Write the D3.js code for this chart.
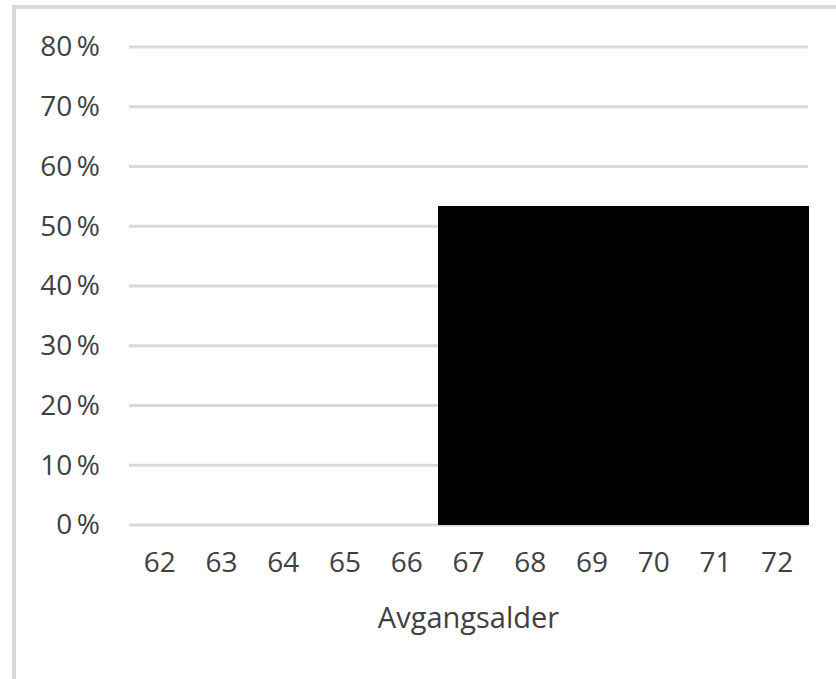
<!DOCTYPE html>
<html>
<head>
<meta charset="utf-8">
<script src="https://cdn.jsdelivr.net/npm/d3@7"></script>
<style>
  body { margin: 0; background: #ffffff; }
  text { font-family: "Open Sans", sans-serif; fill: #404040; }
</style>
</head>
<body>
<div id="chart"></div>
<script>
// categories (avgangsalder) and share per age
var ages = ["62","63","64","65","66","67","68","69","70","71","72"];
var shares = [0, 0, 0, 0, 0, 53.4, 53.4, 53.4, 53.4, 53.4, 53.4];
var yTicks = [0, 10, 20, 30, 40, 50, 60, 70, 80];
var xTitle = "Avgangsalder";

var svgWidth = 836;
var svgHeight = 679;

var margin = { top: 47, right: 28, bottom: 154, left: 129 };
var chartWidth = svgWidth - margin.left - margin.right;
var chartHeight = svgHeight - margin.top - margin.bottom;

var svg = d3.select("#chart")
    .append("svg")
    .attr("width", svgWidth)
    .attr("height", svgHeight);

// frame (only top and left edge visible)
svg.append("path")
    .attr("d", "M14,679 L14,7 L836,7")
    .attr("fill", "none")
    .attr("stroke", "#d9d9d9")
    .attr("stroke-width", 4);

var chartGroup = svg.append("g")
    .attr("transform", `translate(${margin.left}, ${margin.top})`);

//scales
var xBand = d3.scaleBand()
    .domain(ages)
    .range([0, chartWidth])
    .padding(0);

var yLin = d3.scaleLinear()
    .domain([0, 80])
    .range([chartHeight, 0]);

// gridlines
chartGroup.append("g")
    .selectAll("line")
    .data(yTicks)
    .enter()
    .append("line")
    .attr("x1", 0)
    .attr("x2", chartWidth)
    .attr("y1", d => yLin(d))
    .attr("y2", d => yLin(d))
    .attr("stroke", "#d9d9d9")
    .attr("stroke-width", 3);

// y axis labels
var yAxis = d3.axisLeft(yLin)
    .tickValues(yTicks)
    .tickSize(0)
    .tickPadding(29)
    .tickFormat(d => d + "\u2009%");

var yG = chartGroup.append("g").call(yAxis);
yG.select(".domain").remove();
yG.selectAll("text")
    .attr("font-size", 28)
    .attr("fill", "#404040");

// bars (gap width 0, so they touch)
chartGroup.append("g")
    .attr("shape-rendering", "crispEdges")
    .selectAll("rect")
    .data(shares)
    .enter()
    .append("rect")
    .attr("x", (d, i) => xBand(ages[i]))
    .attr("width", xBand.bandwidth() + 1)
    .attr("y", d => yLin(d))
    .attr("height", d => chartHeight - yLin(d))
    .attr("fill", "#000000");

// x axis labels
var xAxis = d3.axisBottom(xBand)
    .tickSize(0)
    .tickPadding(27);

var xG = chartGroup.append("g")
    .attr("transform", `translate(0, ${chartHeight})`)
    .call(xAxis);
xG.select(".domain").remove();
xG.selectAll("text")
    .attr("font-size", 28)
    .attr("fill", "#404040");

// axis title
chartGroup.append("text")
    .attr("x", chartWidth / 2)
    .attr("y", chartHeight + 103)
    .attr("text-anchor", "middle")
    .attr("font-size", 29)
    .text(xTitle);
</script>
</body>
</html>
